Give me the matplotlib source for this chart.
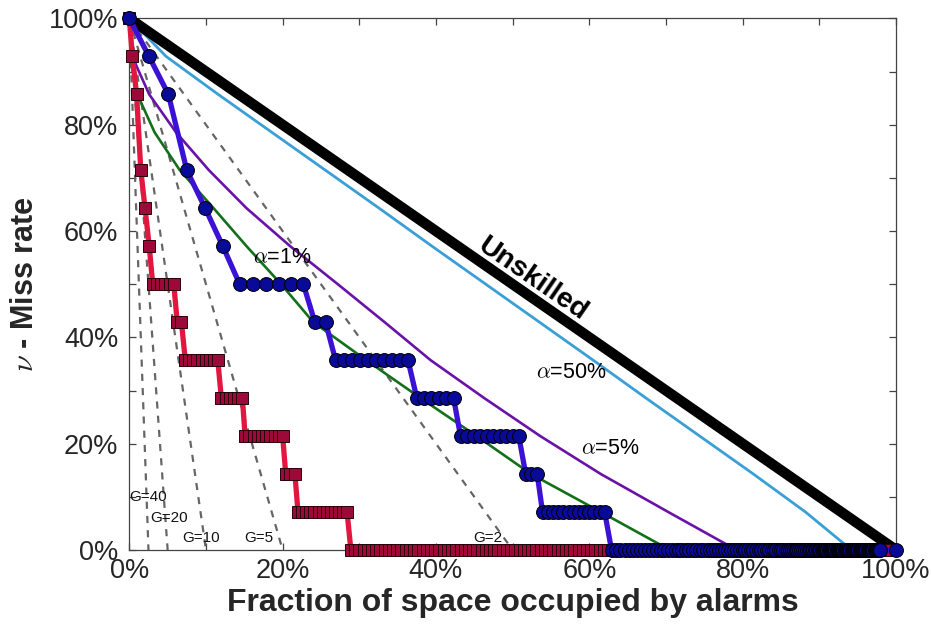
import matplotlib
matplotlib.use("Agg")
import matplotlib.pyplot as plt
from matplotlib.ticker import MultipleLocator, FuncFormatter

plt.rcParams['font.family'] = ['Liberation Sans', 'DejaVu Sans']
plt.rcParams['mathtext.fontset'] = 'cm'

# ---------------- data ----------------
# miss-rate levels (percent) for 14 target events
levels = [100, 92.86, 85.71, 78.57, 71.43, 64.29, 57.14, 50, 42.86, 35.71,
          28.57, 21.43, 14.29, 7.14, 0]

# confidence curves: fraction of space (percent) at each level
alpha1_x = [0, 0.07, 1.05, 3.3, 6.6, 11.0, 15.3, 19.8, 24.0, 30.9, 38.0, 45.3, 52.4, 61.5, 70.5]
alpha5_x = [0, 0.37, 2.6, 6.1, 10.4, 15.3, 21.0, 27.2, 33.3, 39.3, 46.3, 53.6, 61.5, 70.3, 79.2]
alpha50_x = [0, 4.8, 11.6, 18.6, 25.6, 32.6, 39.5, 46.5, 53.5, 60.5, 67.4, 74.4, 81.4, 88.2, 94.2]

# unskilled diagonal
unskilled_x = [0, 100]
unskilled_y = [100, 0]

# probability-gain reference lines
gain_values = [40, 20, 10, 5, 2]
gain_end_x = [2.5, 5, 10, 20, 50]
gain_label_x = [0.0, 2.7, 6.9, 15.0, 44.9]
gain_label_y = [10.0, 6.0, 2.3, 2.3, 2.3]

# red model: miss-rate level of each step and the x of its markers
red_levels = [100, 92.86, 85.71, 71.43, 64.29, 57.14, 50, 42.86, 35.71, 28.57,
              21.43, 14.29, 7.14, 0]
red_steps = [
    [0],
    [0.4],
    [0.95],
    [1.5],
    [2.05],
    [2.6],
    [3.05, 3.6, 4.15, 4.7, 5.25, 5.8],
    [6.25, 6.8],
    [7.3, 7.83, 8.36, 8.89, 9.42, 9.95, 10.48, 11.01, 11.54],
    [12.0, 12.55, 13.1, 13.65, 14.2, 14.75],
    [15.1, 15.65, 16.2, 16.75, 17.3, 17.85, 18.4, 18.95, 19.5, 20.0],
    [20.4, 21.0, 21.6],
    [22.0, 22.55, 23.1, 23.6, 24.15, 24.7, 25.2, 25.75, 26.3, 26.8, 27.35, 27.9, 28.4],
    [28.9, 29.45, 30.0, 30.55, 31.1, 31.65, 32.2, 32.75, 33.3, 33.85, 34.4, 34.95,
     35.5, 36.05, 36.6, 37.15, 37.7, 38.25, 38.8, 39.35, 39.9, 40.45, 41.0, 41.55,
     42.1, 42.65, 43.2, 43.75, 44.3, 44.85, 45.4, 45.95, 46.5, 47.05, 47.6, 48.15,
     48.7, 49.25, 49.8, 50.35, 50.9, 51.45, 52.0, 52.55, 53.1, 53.65, 54.2, 54.75,
     55.3, 55.85, 56.4, 56.95, 57.5, 58.05, 58.6, 59.15, 59.7, 60.25, 60.8, 61.35,
     61.9, 62.45, 63.0, 63.55, 64.1, 64.65, 65.2, 65.75, 66.3, 66.85, 67.4, 67.95,
     68.5, 69.05, 69.6, 70.15, 70.7, 71.25, 71.8, 72.35, 72.9, 73.45, 74.0, 74.55,
     75.1, 75.65, 76.2, 76.75, 77.3, 77.85, 78.4, 78.95, 79.5, 80.05, 80.6, 81.15,
     81.7, 82.25, 82.8, 83.35, 83.9, 84.45, 85.0, 85.55, 86.1, 86.65, 87.2, 87.75,
     88.3, 88.85, 89.4, 89.95, 90.5, 91.05, 91.6, 92.15, 92.7, 93.25, 93.8, 94.35,
     94.9, 95.45, 96.0, 96.55, 97.1, 97.65, 98.2, 98.75, 99.3],
]

# blue model
blue_levels = [100, 92.86, 85.71, 71.43, 64.29, 57.14, 50, 42.86, 35.71, 28.57,
               21.43, 14.29, 7.14, 0]
blue_steps = [
    [0],
    [2.57],
    [5.1],
    [7.5],
    [9.9],
    [12.2],
    [14.4, 16.1, 17.8, 19.5, 21.1, 22.7],
    [24.2, 25.6],
    [26.9, 27.95, 29.0, 30.05, 31.1, 32.15, 33.2, 34.25, 35.3, 36.35],
    [37.5, 38.45, 39.4, 40.35, 41.3, 42.3],
    [43.2, 44.05, 44.9, 45.75, 46.6, 47.45, 48.3, 49.15, 50.0, 50.8],
    [51.7, 52.45, 53.2],
    [53.9, 54.6, 55.25, 55.95, 56.6, 57.3, 57.95, 58.65, 59.3, 60.0, 60.65, 61.35, 62.0],
    [62.9, 63.5, 64.05, 64.6, 65.15, 65.7, 66.25, 66.8, 67.3, 67.8, 68.3, 68.8,
     69.3, 69.8, 70.3, 70.8, 71.25, 71.7, 72.15, 72.6, 73.05, 73.5, 73.95, 74.4,
     74.85, 75.3, 75.7, 76.1, 76.5, 76.9, 77.3, 77.7, 78.1, 78.5, 78.9, 79.3,
     79.65, 80.0, 80.35, 80.7, 81.05, 81.4, 81.75, 82.1, 82.45, 82.8, 83.15, 83.5,
     83.8, 84.1, 84.4, 84.7, 85.0, 85.3, 85.6, 85.9, 86.15, 86.4, 86.65, 86.9,
     87.15, 87.4, 87.65, 87.9, 88.15, 88.4, 88.6, 88.8, 89.0, 89.2, 89.4, 89.6,
     89.8, 90.0, 90.15, 90.3, 90.45, 90.6, 90.75, 90.9, 91.05, 91.2, 91.35, 91.5,
     91.65, 91.8, 91.95, 92.1, 92.25, 92.4, 92.55, 92.7, 92.85, 93.0, 93.15, 93.3,
     93.45, 93.6, 93.75, 93.9, 94.05, 94.2, 94.35, 94.5, 94.65, 94.8, 94.95, 95.1,
     95.25, 95.4, 95.55, 95.7, 95.85, 96.0, 96.15, 96.3, 96.45, 96.6, 96.75, 96.9,
     97.05, 97.2, 97.35, 97.5, 97.65, 97.8, 97.9, 100.0],
]

x_ticks = [0, 20, 40, 60, 80, 100]
y_ticks = [0, 20, 40, 60, 80, 100]


def flatten(levels_, steps_):
    xs, ys = [], []
    for lv, st in zip(levels_, steps_):
        for v in st:
            xs.append(v)
            ys.append(lv)
    return xs, ys


red_x, red_y = flatten(red_levels, red_steps)
blue_x, blue_y = flatten(blue_levels, blue_steps)

# ---------------- figure ----------------
fig = plt.figure(figsize=(9.31, 6.31), dpi=100)
ax = fig.add_axes([0.1389, 0.1284, 0.8235, 0.8423])

# gain lines
for g, ex, lx, ly in zip(gain_values, gain_end_x, gain_label_x, gain_label_y):
    ax.plot([0, ex], [100, 0], linestyle=(0, (3.2, 3.2)), color='#666666', lw=1.6, zorder=2)
    ax.text(lx, ly, f'G={g}', fontsize=11, ha='left', va='center', color='#111111', zorder=6)

# confidence curves
ax.plot(alpha1_x, levels, color='#13701a', lw=1.9, zorder=3)
ax.plot(alpha5_x, levels, color='#6a12a8', lw=1.9, zorder=3)
ax.plot(alpha50_x, levels, color='#3a9fd6', lw=2.0, zorder=3)

# unskilled
ax.plot(unskilled_x, unskilled_y, color='black', lw=7.5, zorder=4, solid_capstyle='butt')

# models
ax.plot(red_x, red_y, color='#e3163f', lw=3.8, marker='s', ms=8.4,
        mfc='#9b0a39', mec='#2a0008', mew=0.7, zorder=5, clip_on=False)
ax.plot(blue_x, blue_y, color='#3b12d4', lw=3.8, marker='o', ms=10,
        mfc='#0a0a98', mec='#000000', mew=0.7, zorder=6, clip_on=False)

# annotations
ax.text(52.6, 51.0, 'Unskilled', fontsize=20.5, fontweight='bold', rotation=-34.6,
        rotation_mode='anchor', ha='center', va='center', zorder=7)
ax.text(16.1, 55.1, r'$\alpha$=1%', fontsize=15.5, ha='left', va='center', zorder=7)
ax.text(57.6, 33.3, r'$\alpha$=50%', fontsize=15.5, ha='center', va='center', zorder=7)
ax.text(62.7, 19.0, r'$\alpha$=5%', fontsize=15.5, ha='center', va='center', zorder=7)

# axes styling
ax.set_xlim(0, 100)
ax.set_ylim(0, 100)
ax.set_xticks(x_ticks)
ax.set_yticks(y_ticks)
ax.xaxis.set_minor_locator(MultipleLocator(10))
ax.yaxis.set_minor_locator(MultipleLocator(10))
pct = FuncFormatter(lambda v, p: f'{int(round(v))}%')
ax.xaxis.set_major_formatter(pct)
ax.yaxis.set_major_formatter(pct)
ax.tick_params(which='both', direction='in', length=5, width=0.9, color='#444444',
               top=True, right=True, labelsize=19.5, labelcolor='#262626')
ax.tick_params(axis='x', pad=6)
ax.tick_params(axis='y', pad=8)
for s in ax.spines.values():
    s.set_color('#444444')
    s.set_linewidth(0.9)

ax.set_xlabel('Fraction of space occupied by alarms', fontsize=23, fontweight='bold',
              color='#262626', labelpad=3)
ax.set_ylabel(r'$\nu$ - Miss rate', fontsize=22, fontweight='bold', color='#262626',
              labelpad=6)

fig.savefig('out.png', dpi=100)
